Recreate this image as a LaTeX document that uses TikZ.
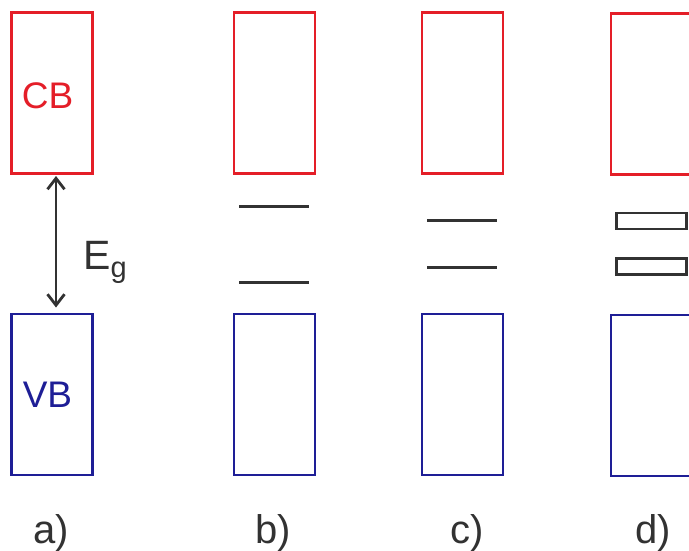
\documentclass[tikz,border=0pt]{standalone}
\usepackage{fontspec}
\setmainfont{Liberation Sans}
\usetikzlibrary{arrows.meta}
\definecolor{cbred}{RGB}{228,30,40}
\definecolor{vbblue}{RGB}{30,30,150}
\definecolor{dgray}{RGB}{50,50,50}
\tikzset{
  band/.style={draw, rectangle, inner sep=0pt, line width=2.4pt, minimum width=81pt, minimum height=161pt},
  cbbox/.style={band, cbred},
  vbbox/.style={band, vbblue},
  level/.style={draw=dgray, line width=2.6pt},
  minibox/.style={draw=dgray, rectangle, inner sep=0pt, line width=2.5pt, minimum width=70pt, minimum height=16pt},
  biglabel/.style={font=\fontsize{37}{40}\selectfont, inner sep=0pt},
  panel/.style={font=\fontsize{40}{44}\selectfont, text=dgray, inner sep=0pt, anchor=base},
  arr/.style={dgray, line width=2.8pt, {Straight Barb[length=11pt,width=17pt]}-{Straight Barb[length=11pt,width=17pt]}}
}
\begin{document}
\begin{tikzpicture}[x=1pt,y=-1pt]
\useasboundingbox (0,0) rectangle (689,551);
\clip (0,0) rectangle (689,551);
% a)
\node[cbbox] (acb) at (52,93) {};
\node[vbbox] (avb) at (52,394.5) {};
\node[biglabel, text=cbred] (cbt) at (47.5,95.5) {CB};
\node[biglabel, text=vbblue] (vbt) at (47.5,395) {VB};
\coordinate (atop) at (56,176);
\coordinate (abot) at (56,307.5);
\draw[arr] (atop) -- (abot);
\node[font=\fontsize{41}{44}\selectfont, text=dgray, inner sep=0pt, anchor=base west] (eg) at (83,269) {E\raisebox{-0.2em}{\fontsize{29}{30}\selectfont g}};
% b)
\node[cbbox] (bcb) at (274.5,93) {};
\node[vbbox] (bvb) at (274.5,394.5) {};
\coordinate (b1l) at (239,206.5); \coordinate (b1r) at (309,206.5);
\coordinate (b2l) at (239,282.7); \coordinate (b2r) at (309,282.7);
\draw[level] (b1l) -- (b1r);
\draw[level] (b2l) -- (b2r);
% c)
\node[cbbox] (ccb) at (462.5,93) {};
\node[vbbox] (cvb) at (462.5,394.5) {};
\coordinate (c1l) at (427.3,220.7); \coordinate (c1r) at (497.3,220.7);
\coordinate (c2l) at (427.3,267.3); \coordinate (c2r) at (497.3,267.3);
\draw[level] (c1l) -- (c1r);
\draw[level] (c2l) -- (c2r);
% d)
\node[cbbox] (dcb) at (651.5,94) {};
\node[vbbox] (dvb) at (651.5,395.3) {};
\node[minibox] (d1) at (651.5,221) {};
\node[minibox] (d2) at (651.5,266.7) {};
% panel labels
\node[panel] (la) at (51,543) {a)};
\node[panel] (lb) at (273,543) {b)};
\node[panel] (lc) at (467,543) {c)};
\node[panel] (ld) at (653,543) {d)};
\end{tikzpicture}
\end{document}
